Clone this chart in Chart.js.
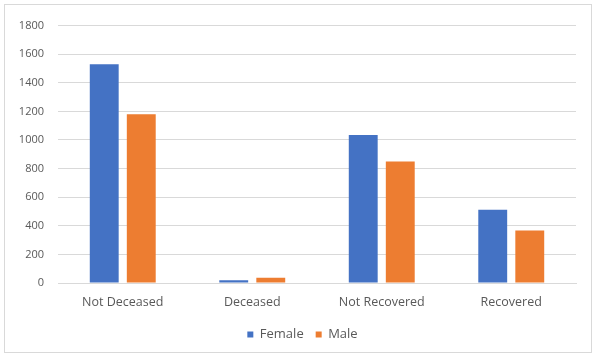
<!DOCTYPE html>
<html>
<head>
<meta charset="utf-8">
<script src="https://cdn.jsdelivr.net/npm/chart.js@4.4.1/dist/chart.umd.min.js"></script>
<style>
  html, body { margin: 0; padding: 0; background: #ffffff; }
  #frame { position: absolute; left: 4px; top: 4px; width: 586px; height: 347px; border: 1px solid #d9d9d9; background: #fff; }
  #c { display: block; }
</style>
</head>
<body>
<div id="frame"><canvas id="c" width="586" height="347"></canvas></div>
<script>
const categories = ["Not Deceased", "Deceased", "Not Recovered", "Recovered"];
const femaleValues = [1530, 20, 1035, 512];
const maleValues = [1180, 36, 850, 368];
const yTicks = [0, 200, 400, 600, 800, 1000, 1200, 1400, 1600, 1800];

const textColor = "#595959";
const fontFamily = "'Open Sans', 'Liberation Sans', sans-serif";

const shiftLegend = {
  id: "shiftLegend",
  afterLayout(chart) {
    if (chart.legend) { chart.legend.left += 12; chart.legend.right += 12; }
  }
};

new Chart(document.getElementById("c"), {
  type: "bar",
  data: {
    labels: categories,
    datasets: [
      { label: "Female", data: femaleValues, backgroundColor: "#4472C4", categoryPercentage: 0.572, barPercentage: 0.78 },
      { label: "Male", data: maleValues, backgroundColor: "#ED7D31", categoryPercentage: 0.572, barPercentage: 0.78 }
    ]
  },
  plugins: [shiftLegend],
  options: {
    responsive: false,
    animation: false,
    devicePixelRatio: 1,
    layout: { padding: { left: 0, right: 15, top: 8, bottom: 1 } },
    plugins: {
      tooltip: { enabled: false },
      legend: {
        position: "bottom",
        labels: {
          color: textColor,
          font: { family: fontFamily, size: 13 },
          boxWidth: 6, boxHeight: 6,
          padding: 12
        }
      }
    },
    scales: {
      x: {
        grid: { display: false },
        border: { display: true, color: "#d9d9d9" },
        ticks: { color: textColor, font: { family: fontFamily, size: 12.5 }, padding: 4, maxRotation: 0 },
        afterFit: (s) => { s.height = 33; }
      },
      y: {
        min: 0, max: 1800,
        afterBuildTicks: (s) => { s.ticks = yTicks.map(v => ({ value: v })); },
        grid: { color: "#d9d9d9", drawTicks: false },
        border: { display: false },
        ticks: { color: textColor, font: { family: fontFamily, size: 11 }, padding: 14, callback: (v) => String(v) },
        afterFit: (s) => { s.width = 53; }
      }
    }
  }
});
</script>
</body>
</html>
